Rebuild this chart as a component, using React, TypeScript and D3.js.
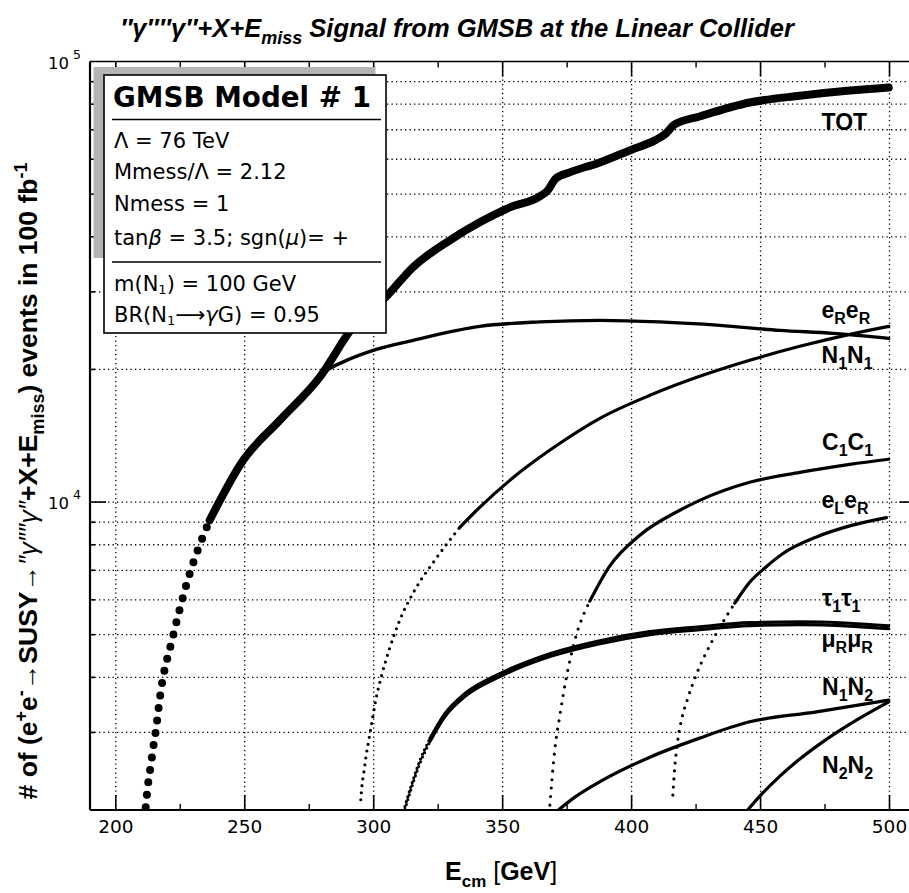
import React from "react";
import * as d3 from "d3";

const W = 909;
const H = 893;

// axis definitions
const X_DOMAIN: [number, number] = [190, 510];
const Y_DOMAIN: [number, number] = [2000, 100000];
const xMajorTicks = [200, 250, 300, 350, 400, 450, 500];
const xMinorTicks = [225, 275, 325, 375, 425, 475];
const yGridValues = [3000, 4000, 5000, 6000, 7000, 8000, 9000, 10000, 20000, 30000, 40000, 50000, 60000, 70000, 80000, 90000];
const yMajorValues = [10000];
const yTickLabels = [
  { v: 100000, exp: "5" },
  { v: 10000, exp: "4" },
];

// series: [E_cm (GeV), events in 100 fb^-1]
const TOT: [number, number][] = [
  [211.6, 2030], [212.5, 2290], [213.6, 2533], [214.6, 2793], [215.6, 3052], [216.4, 3335], [217.1, 3594],
  [222.3, 4987], [228.3, 6769], [236.4, 9094], [249.4, 12440], [263.6, 15330], [279.1, 19220],
  [292.0, 24960], [304.7, 29200], [315.3, 34150], [329.5, 39260], [341.1, 43140], [352.8, 46650],
  [364.4, 49400], [367.5, 50980], [370.6, 54280], [376.0, 56010], [387.7, 59010], [399.3, 62830],
  [409.0, 66210], [412.9, 68310], [416.7, 71950], [426.4, 75030], [445.8, 80700], [465.2, 83600],
  [484.6, 85900], [499.7, 87300],
];
const N1N1: [number, number][] = [
  [263.6, 15330], [272.0, 17300], [280.3, 19600], [289.5, 20970], [299.8, 22100], [315.3, 23290],
  [341.1, 25050], [364.4, 25640], [387.7, 25850], [410.9, 25640], [434.2, 25180], [457.5, 24530],
  [478.0, 24150], [499.7, 23530],
];
const ERER: [number, number][] = [
  [295.0, 2110], [295.4, 2257], [296.2, 2441], [297.0, 2640], [298.1, 2883], [299.3, 3167], [300.8, 3552],
  [303.1, 4047], [306.2, 4660], [310.1, 5393], [315.9, 6308], [323.7, 7378], [333.4, 8765], [341.1, 9731],
  [356.6, 11680], [372.2, 13600], [387.7, 15490], [407.1, 17470], [426.4, 19290], [445.8, 20980],
  [465.2, 22570], [484.6, 24030], [499.7, 25050],
];
const C1C1: [number, number][] = [
  [368.3, 2051], [369.1, 2338], [370.2, 2735], [372.2, 3284], [374.5, 3942], [378.0, 4858], [383.8, 5959],
  [391.5, 7153], [403.2, 8410], [418.7, 9581], [426.4, 10090], [445.8, 11090], [465.2, 11680],
  [484.6, 12180], [499.7, 12510],
];
const ELER: [number, number][] = [
  [416.0, 2162], [416.5, 2400], [417.2, 2665], [418.2, 2958], [419.5, 3232], [421.8, 3588], [425.0, 4047],
  [429.0, 4563], [434.0, 5172], [440.0, 5895], [445.8, 6578], [452.0, 7115], [458.7, 7643], [471.7, 8334],
  [484.6, 8829], [498.8, 9222],
];
const TAU1TAU1: [number, number][] = [
  [312.1, 2036], [314.8, 2296], [317.9, 2588], [321.8, 2904], [327.6, 3309], [335.3, 3672], [348.9, 4077],
  [368.3, 4527], [387.7, 4845], [407.1, 5079], [426.4, 5211], [445.8, 5324], [465.2, 5349], [484.6, 5308],
  [499.7, 5239],
];
const MURMUR: [number, number][] = [
  [312.1, 2006], [314.8, 2262], [317.9, 2550], [321.8, 2861], [327.6, 3260], [335.3, 3618], [348.9, 4017],
  [368.3, 4460], [387.7, 4773], [407.1, 5003], [426.4, 5134], [445.8, 5245], [465.2, 5269], [484.6, 5229],
  [499.7, 5161],
];
const N1N2: [number, number][] = [
  [371.4, 1995], [378.0, 2139], [388.8, 2338], [407.1, 2636], [426.4, 2912], [445.8, 3171],
  [471.7, 3340], [499.7, 3551],
];
const N2N2: [number, number][] = [
  [444.7, 1990], [449.7, 2150], [457.5, 2388], [465.2, 2610], [472.9, 2822], [484.6, 3133], [499.7, 3520],
];

const x = d3.scaleLinear().domain(X_DOMAIN).range([90, 915.3]);
const y = d3.scaleLog().domain(Y_DOMAIN).range([810, 61.5]);

type Series = { name: string; data: [number, number][]; width: number; dotsUntil: number; gap: number };
const SERIES: Series[] = [
  { name: "N2N2", data: N2N2, width: 3.2, dotsUntil: 0, gap: 0 },
  { name: "N1N2", data: N1N2, width: 3.2, dotsUntil: 0, gap: 0 },
  { name: "MURMUR", data: MURMUR, width: 3.2, dotsUntil: 321.8, gap: 5 },
  { name: "TAU1TAU1", data: TAU1TAU1, width: 3.2, dotsUntil: 321.8, gap: 5 },
  { name: "ELER", data: ELER, width: 3.2, dotsUntil: 440, gap: 8 },
  { name: "C1C1", data: C1C1, width: 3.2, dotsUntil: 383.8, gap: 8.5 },
  { name: "ERER", data: ERER, width: 3.2, dotsUntil: 333.4, gap: 7 },
  { name: "N1N1", data: N1N1, width: 3.4, dotsUntil: 0, gap: 0 },
  { name: "TOT", data: TOT, width: 8, dotsUntil: 236.4, gap: 12.5 },
];

const line = d3
  .line<[number, number]>()
  .x((d) => x(d[0]))
  .y((d) => y(d[1]))
  .curve(d3.curveMonotoneX);

const sansBold = "'Liberation Sans', Arial, Helvetica, sans-serif";
const avant = "'DejaVu Sans', sans-serif";

function SubLabel({ x0, yb, parts }: { x0: number; yb: number; parts: [string, string][] }) {
  return (
    <text x={x0} y={yb} fontFamily={sansBold} fontWeight="bold" fontSize={23} fill="#000">
      {parts.map(([m, s], i) => (
        <React.Fragment key={i}>
          <tspan dy={i === 0 ? 0 : -6}>{m}</tspan>
          <tspan fontSize={16} dy={6}>{s}</tspan>
        </React.Fragment>
      ))}
    </text>
  );
}

export default function App() {
  const xl = 90;
  const xr = 915.3;
  const yt = 61.5;
  const yb = 810;

  return (
    <div style={{ position: "absolute", left: 0, top: 0 }}>
      <svg width={W} height={H} viewBox={`0 0 ${W} ${H}`} style={{ display: "block", background: "#fff" }}>
        <defs>
          <clipPath id="plot">
            <rect x={xl} y={yt} width={xr - xl} height={yb - yt} />
          </clipPath>
        </defs>
        <rect x={0} y={0} width={W} height={H} fill="#fff" />

        {/* title */}
        <text x={457} y={37} textAnchor="middle" fontFamily={sansBold} fontWeight="bold" fontStyle="italic" fontSize={25.5}>
          ″γ″″γ″+X+E<tspan fontSize={18} dy={7}>miss</tspan>
          <tspan dy={-7}> Signal from GMSB at the Linear Collider</tspan>
        </text>

        {/* grid */}
        <g stroke="#000" strokeWidth={1.3} strokeDasharray="1.3 3.2" fill="none">
          {yGridValues.map((v) => (
            <line key={"gy" + v} x1={xl} x2={xr} y1={y(v)} y2={y(v)} />
          ))}
          {xMajorTicks.map((e) => (
            <line key={"gx" + e} x1={x(e)} x2={x(e)} y1={yt} y2={yb} />
          ))}
        </g>

        {/* frame */}
        <g stroke="#000" fill="none">
          <line x1={xl} x2={xr} y1={yb} y2={yb} strokeWidth={2.2} />
          <line x1={xl} x2={xr} y1={yt} y2={yt} strokeWidth={1.6} />
          <line x1={xl} x2={xl} y1={yt} y2={yb} strokeWidth={2.2} />
          <line x1={xr} x2={xr} y1={yt} y2={yb} strokeWidth={2} />
          {xMajorTicks.map((e) => (
            <g key={"tx" + e} strokeWidth={1.6}>
              <line x1={x(e)} x2={x(e)} y1={yb} y2={yb - 15} />
              <line x1={x(e)} x2={x(e)} y1={yt} y2={yt + 15} />
            </g>
          ))}
          {xMinorTicks.map((e) => (
            <g key={"tm" + e} strokeWidth={1.4}>
              <line x1={x(e)} x2={x(e)} y1={yb} y2={yb - 6} />
              <line x1={x(e)} x2={x(e)} y1={yt} y2={yt + 6} />
            </g>
          ))}
          {yGridValues.map((v) => {
            const major = yMajorValues.includes(v);
            const len = major ? 16 : 5;
            return (
              <g key={"ty" + v} strokeWidth={1.6}>
                <line x1={xl} x2={xl + len} y1={y(v)} y2={y(v)} />
                <line x1={xr} x2={xr - len} y1={y(v)} y2={y(v)} />
              </g>
            );
          })}
        </g>

        {/* curves */}
        <g clipPath="url(#plot)">
          {SERIES.map((s) => {
            let k = -1;
            s.data.forEach((d, i) => {
              if (d[0] <= s.dotsUntil) k = i;
            });
            const dotted = k > 0 ? s.data.slice(0, k + 1) : [];
            const solid = k > 0 ? s.data.slice(k) : s.data;
            return (
              <g key={s.name}>
                {dotted.length > 1 && (
                  <path
                    d={line(dotted) || ""}
                    fill="none"
                    stroke="#000"
                    strokeWidth={s.width}
                    strokeLinecap="round"
                    strokeDasharray={`0 ${s.gap}`}
                  />
                )}
                <path
                  d={line(solid) || ""}
                  fill="none"
                  stroke="#000"
                  strokeWidth={s.width}
                  strokeLinecap="round"
                  strokeLinejoin="round"
                />
              </g>
            );
          })}
        </g>

        {/* info box */}
        <rect x={93.5} y={67} width={282} height={191} fill="#b4b4b4" />
        <rect x={104} y={75} width={282} height={258} fill="#fff" stroke="#000" strokeWidth={1.6} />
        <text x={113} y={107} fontFamily={avant} fontWeight="bold" fontSize={28} textLength={258} lengthAdjust="spacingAndGlyphs">
          GMSB Model # 1
        </text>
        <line x1={112} x2={381} y1={119.5} y2={119.5} stroke="#000" strokeWidth={1.4} />
        <g fontFamily={avant} fontSize={21} fill="#000">
          <text x={114} y={147.5}>Λ = 76 TeV</text>
          <text x={114} y={179}>Mmess/Λ = 2.12</text>
          <text x={114} y={211}>Nmess = 1</text>
          <text x={114} y={244.5}>
            tan<tspan fontStyle="italic">β</tspan> = 3.5; sgn(<tspan fontStyle="italic">μ</tspan>)= +
          </text>
          <text x={114} y={291}>
            m(N<tspan fontSize={13} dy={3}>1</tspan>
            <tspan dy={-3}>) = 100 GeV</tspan>
          </text>
          <text x={114} y={322}>
            BR(N<tspan fontSize={13} dy={3}>1</tspan>
            <tspan dy={-3}>⟶</tspan>
            <tspan fontStyle="italic">γ</tspan>G) = 0.95
          </text>
        </g>
        <line x1={112} x2={381} y1={262} y2={262} stroke="#000" strokeWidth={1.4} />

        {/* curve labels */}
        <text x={821.5} y={130} fontFamily={sansBold} fontWeight="bold" fontSize={23}>TOT</text>
        <SubLabel x0={821.5} yb={318} parts={[["e", "R"], ["e", "R"]]} />
        <SubLabel x0={821.5} yb={363} parts={[["N", "1"], ["N", "1"]]} />
        <SubLabel x0={822} yb={450} parts={[["C", "1"], ["C", "1"]]} />
        <SubLabel x0={821.5} yb={508} parts={[["e", "L"], ["e", "R"]]} />
        <SubLabel x0={822} yb={606} parts={[["τ", "1"], ["τ", "1"]]} />
        <SubLabel x0={821.5} yb={647} parts={[["μ", "R"], ["μ", "R"]]} />
        <SubLabel x0={822} yb={695} parts={[["N", "1"], ["N", "2"]]} />
        <SubLabel x0={822} yb={773} parts={[["N", "2"], ["N", "2"]]} />

        {/* y tick labels */}
        {yTickLabels.map((t) => (
          <text key={t.exp} x={48} y={y(t.v) + 7} fontFamily={avant} fontSize={16.5}>
            10<tspan fontSize={12.5} dx={4} dy={-10}>{t.exp}</tspan>
          </text>
        ))}
        {/* x tick labels */}
        {xMajorTicks.map((e) => (
          <text key={"xl" + e} x={x(e)} y={833} textAnchor="middle" fontFamily={avant} fontSize={18.5}>
            {e}
          </text>
        ))}

        {/* x axis title */}
        <text x={445} y={880} fontFamily={sansBold} fontWeight="bold" fontSize={25}>
          E<tspan fontSize={17} dy={7}>cm</tspan>
          <tspan dy={-7} fontWeight="normal"> [</tspan>
          <tspan>GeV</tspan>
          <tspan fontWeight="normal">]</tspan>
        </text>

        {/* y axis title */}
        <text
          transform="translate(37,481) rotate(-90)"
          textAnchor="middle"
          fontFamily={sansBold}
          fontWeight="bold"
          fontSize={26.5}
        >
          # of (e<tspan fontSize={18} dy={-10}>+</tspan>
          <tspan dy={10}>e</tspan>
          <tspan fontSize={18} dy={-10}>-</tspan>
          <tspan dy={10}>→SUSY→</tspan>
          <tspan fontWeight="normal" fontStyle="italic">″γ″″γ″</tspan>
          <tspan>+X+E</tspan>
          <tspan fontSize={18} dy={7}>miss</tspan>
          <tspan dy={-7}>) events in 100 fb</tspan>
          <tspan fontSize={18} dy={-10}>-1</tspan>
        </text>
      </svg>
    </div>
  );
}
